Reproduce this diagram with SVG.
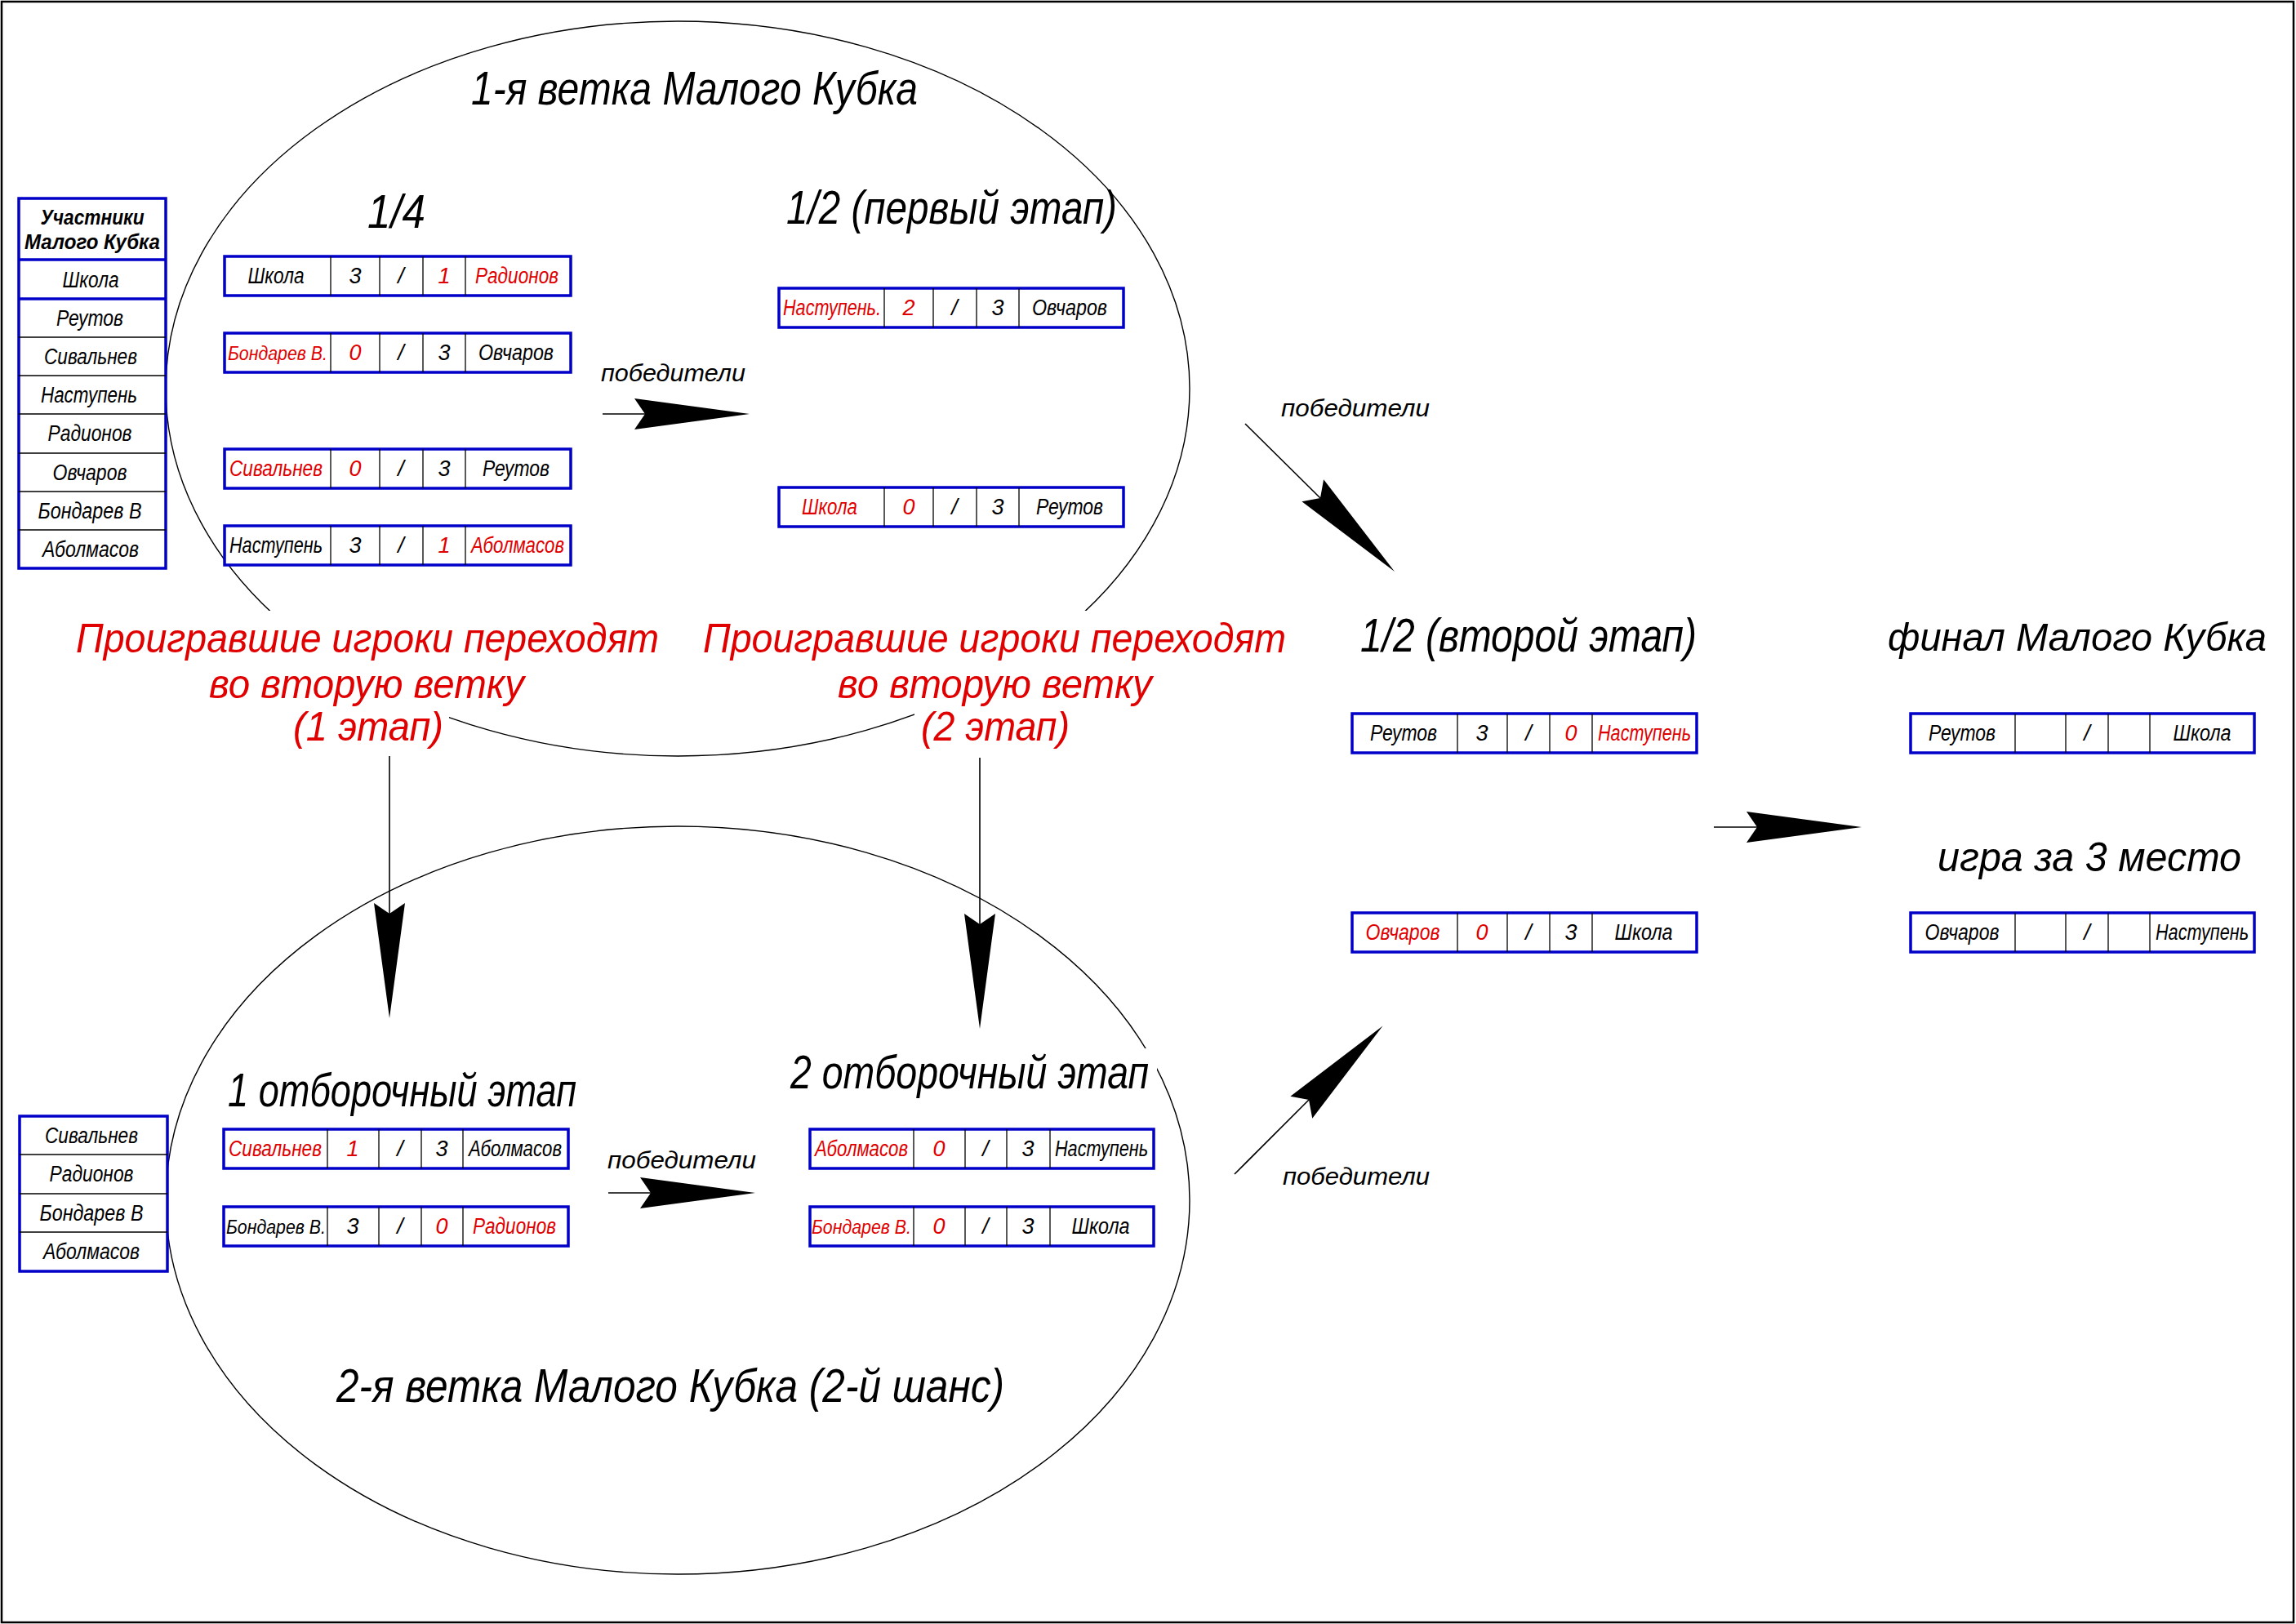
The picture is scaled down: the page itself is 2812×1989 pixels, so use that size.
<svg xmlns="http://www.w3.org/2000/svg" width="2812" height="1989" viewBox="0 0 2812 1989">
<style>
text{font-family:"Liberation Sans","DejaVu Sans",Arial,sans-serif;font-style:italic;fill:#000}
.r{fill:#E00000}
.s{font-size:27px;text-anchor:middle}
.b{font-size:23px}
.h{font-size:26px;text-anchor:middle;font-weight:bold}
.t{font-size:58px}
.rt{font-size:50px;fill:#E00000}
.w{font-size:29px}
.box{fill:#fff;stroke:#0000C8;stroke-width:3.5}
.dv{fill:none;stroke:#000;stroke-width:1.3}
.bl{fill:none;stroke:#0000C8;stroke-width:3.5}
.el{fill:none;stroke:#000;stroke-width:1.4}
.mask{fill:#fff;stroke:none}
.cn{fill:none;stroke:#000;stroke-width:1.6;marker-end:url(#dart)}
</style>
<defs>
<marker id="dart" markerUnits="userSpaceOnUse" viewBox="-15 -21 145 42" refX="0" refY="0" markerWidth="145" markerHeight="42" orient="auto" overflow="visible">
<path d="M128,0 L-13,-19 L0,0 L-13,19 Z" fill="#000"/>
</marker>
</defs>
<rect x="2" y="2" width="2807" height="1985" fill="#fff" stroke="#000" stroke-width="2.5"/>

<g id="branch1">
<ellipse class="el" cx="830" cy="476" rx="627" ry="450"/>
<text class="t" x="577" y="128" textLength="547" lengthAdjust="spacingAndGlyphs">1-я ветка Малого Кубка</text>
</g>
<g id="branch2">
<ellipse class="el" cx="830" cy="1470" rx="627" ry="458"/>
<text class="t" x="412" y="1717" font-size="60" textLength="818" lengthAdjust="spacingAndGlyphs">2-я ветка Малого Кубка (2-й шанс)</text>
</g>

<g id="losers1">
<rect class="mask" x="86" y="748" width="728" height="64"/>
<rect class="mask" x="250" y="812" width="398" height="56"/>
<rect class="mask" x="352" y="866" width="198" height="52"/>
<text class="rt" x="93" y="799" textLength="714" lengthAdjust="spacingAndGlyphs">Проигравшие игроки переходят</text>
<text class="rt" x="256" y="855" textLength="386" lengthAdjust="spacingAndGlyphs">во вторую ветку</text>
<text class="rt" x="359" y="907" textLength="184" lengthAdjust="spacingAndGlyphs">(1 этап)</text>
</g>
<g id="losers2">
<rect class="mask" x="854" y="748" width="728" height="64"/>
<rect class="mask" x="1020" y="812" width="398" height="56"/>
<rect class="mask" x="1120" y="866" width="198" height="52"/>
<text class="rt" x="861" y="799" textLength="714" lengthAdjust="spacingAndGlyphs">Проигравшие игроки переходят</text>
<text class="rt" x="1026" y="855" textLength="385" lengthAdjust="spacingAndGlyphs">во вторую ветку</text>
<text class="rt" x="1128" y="907" textLength="182" lengthAdjust="spacingAndGlyphs">(2 этап)</text>
</g>

<g id="connectors">
<line class="cn" x1="738" y1="507" x2="790" y2="507"/>
<line class="cn" x1="1525" y1="519" x2="1617" y2="610"/>
<line class="cn" x1="1512" y1="1438" x2="1603" y2="1347"/>
<line class="cn" x1="745" y1="1461" x2="797" y2="1461"/>
<line class="cn" x1="2099" y1="1013" x2="2152" y2="1013"/>
<line class="cn" x1="477" y1="926" x2="477" y2="1119"/>
<line class="cn" x1="1200" y1="928" x2="1200" y2="1132"/>
<text class="w" x="736" y="467" textLength="177" lengthAdjust="spacingAndGlyphs">победители</text>
<text class="w" x="1569" y="510" textLength="182" lengthAdjust="spacingAndGlyphs">победители</text>
<text class="w" x="744" y="1431" textLength="182" lengthAdjust="spacingAndGlyphs">победители</text>
<text class="w" x="1571" y="1451" textLength="180" lengthAdjust="spacingAndGlyphs">победители</text>
</g>

<g id="participants">
<rect class="box" x="23" y="243" width="180" height="453"/>
<path class="dv" d="M23,413H203M23,460H203M23,507H203M23,555H203M23,602H203M23,649H203"/>
<path class="bl" d="M23,318H203M23,366H203"/>
<text class="h" x="113" y="275" textLength="127" lengthAdjust="spacingAndGlyphs">Участники</text>
<text class="h" x="113" y="305" textLength="166" lengthAdjust="spacingAndGlyphs">Малого Кубка</text>
<text class="s" x="111" y="352" textLength="69" lengthAdjust="spacingAndGlyphs">Школа</text>
<text class="s" x="110" y="399" textLength="82" lengthAdjust="spacingAndGlyphs">Реутов</text>
<text class="s" x="111" y="446" textLength="114" lengthAdjust="spacingAndGlyphs">Сивальнев</text>
<text class="s" x="109" y="493" textLength="118" lengthAdjust="spacingAndGlyphs">Наступень</text>
<text class="s" x="110" y="540" textLength="103" lengthAdjust="spacingAndGlyphs">Радионов</text>
<text class="s" x="110" y="588" textLength="91" lengthAdjust="spacingAndGlyphs">Овчаров</text>
<text class="s" x="110" y="635" textLength="127" lengthAdjust="spacingAndGlyphs">Бондарев В</text>
<text class="s" x="111" y="682" textLength="118" lengthAdjust="spacingAndGlyphs">Аболмасов</text>
</g>

<g id="participants2">
<rect class="box" x="24" y="1367" width="181" height="190"/>
<path class="dv" d="M24,1414H205M24,1462H205M24,1509H205"/>
<text class="s" x="112" y="1400" textLength="114" lengthAdjust="spacingAndGlyphs">Сивальнев</text>
<text class="s" x="112" y="1447" textLength="103" lengthAdjust="spacingAndGlyphs">Радионов</text>
<text class="s" x="112" y="1495" textLength="127" lengthAdjust="spacingAndGlyphs">Бондарев В</text>
<text class="s" x="112" y="1542" textLength="118" lengthAdjust="spacingAndGlyphs">Аболмасов</text>
</g>

<g id="quarterfinals">
<text class="t" x="450" y="279" textLength="71" lengthAdjust="spacingAndGlyphs">1/4</text>
<g id="qf1">
<rect class="box" x="275" y="314" width="424" height="48"/>
<path class="dv" d="M405,314V362M465,314V362M518,314V362M570,314V362"/>
<text class="s" x="338" y="347" textLength="69" lengthAdjust="spacingAndGlyphs">Школа</text>
<text class="s" x="435" y="347">3</text><text class="s" x="491" y="347">/</text><text class="s r" x="544" y="347">1</text>
<text class="s r" x="633" y="347" textLength="102" lengthAdjust="spacingAndGlyphs">Радионов</text>
</g>
<g id="qf2">
<rect class="box" x="275" y="408" width="424" height="48"/>
<path class="dv" d="M405,408V456M465,408V456M518,408V456M570,408V456"/>
<text class="s b r" x="340" y="441" textLength="122" lengthAdjust="spacingAndGlyphs">Бондарев В.</text>
<text class="s r" x="435" y="441">0</text><text class="s" x="491" y="441">/</text><text class="s" x="544" y="441">3</text>
<text class="s" x="632" y="441" textLength="92" lengthAdjust="spacingAndGlyphs">Овчаров</text>
</g>
<g id="qf3">
<rect class="box" x="275" y="550" width="424" height="48"/>
<path class="dv" d="M405,550V598M465,550V598M518,550V598M570,550V598"/>
<text class="s r" x="338" y="583" textLength="114" lengthAdjust="spacingAndGlyphs">Сивальнев</text>
<text class="s r" x="435" y="583">0</text><text class="s" x="491" y="583">/</text><text class="s" x="544" y="583">3</text>
<text class="s" x="632" y="583" textLength="82" lengthAdjust="spacingAndGlyphs">Реутов</text>
</g>
<g id="qf4">
<rect class="box" x="275" y="644" width="424" height="48"/>
<path class="dv" d="M405,644V692M465,644V692M518,644V692M570,644V692"/>
<text class="s" x="338" y="677" textLength="114" lengthAdjust="spacingAndGlyphs">Наступень</text>
<text class="s" x="435" y="677">3</text><text class="s" x="491" y="677">/</text><text class="s r" x="544" y="677">1</text>
<text class="s r" x="634" y="677" textLength="114" lengthAdjust="spacingAndGlyphs">Аболмасов</text>
</g>
</g>

<g id="semifinal1">
<text class="t" x="963" y="274" textLength="405" lengthAdjust="spacingAndGlyphs">1/2 (первый этап)</text>
<g id="sf1a">
<rect class="box" x="954" y="353" width="422" height="48"/>
<path class="dv" d="M1083,353V401M1143,353V401M1196,353V401M1248,353V401"/>
<text class="s r" x="1019" y="386" textLength="120" lengthAdjust="spacingAndGlyphs">Наступень.</text>
<text class="s r" x="1113" y="386">2</text><text class="s" x="1169" y="386">/</text><text class="s" x="1222" y="386">3</text>
<text class="s" x="1310" y="386" textLength="92" lengthAdjust="spacingAndGlyphs">Овчаров</text>
</g>
<g id="sf1b">
<rect class="box" x="954" y="597" width="422" height="48"/>
<path class="dv" d="M1083,597V645M1143,597V645M1196,597V645M1248,597V645"/>
<text class="s r" x="1016" y="630" textLength="68" lengthAdjust="spacingAndGlyphs">Школа</text>
<text class="s r" x="1113" y="630">0</text><text class="s" x="1169" y="630">/</text><text class="s" x="1222" y="630">3</text>
<text class="s" x="1310" y="630" textLength="82" lengthAdjust="spacingAndGlyphs">Реутов</text>
</g>
</g>

<g id="semifinal2">
<text class="t" x="1666" y="798" textLength="412" lengthAdjust="spacingAndGlyphs">1/2 (второй этап)</text>
<g id="sf2a">
<rect class="box" x="1656" y="874" width="422" height="48"/>
<path class="dv" d="M1785,874V922M1846,874V922M1898,874V922M1950,874V922"/>
<text class="s" x="1719" y="907" textLength="82" lengthAdjust="spacingAndGlyphs">Реутов</text>
<text class="s" x="1815" y="907">3</text><text class="s" x="1872" y="907">/</text><text class="s r" x="1924" y="907">0</text>
<text class="s r" x="2014" y="907" textLength="114" lengthAdjust="spacingAndGlyphs">Наступень</text>
</g>
<g id="sf2b">
<rect class="box" x="1656" y="1118" width="422" height="48"/>
<path class="dv" d="M1785,1118V1166M1846,1118V1166M1898,1118V1166M1950,1118V1166"/>
<text class="s r" x="1718" y="1151" textLength="91" lengthAdjust="spacingAndGlyphs">Овчаров</text>
<text class="s r" x="1815" y="1151">0</text><text class="s" x="1872" y="1151">/</text><text class="s" x="1924" y="1151">3</text>
<text class="s" x="2013" y="1151" textLength="71" lengthAdjust="spacingAndGlyphs">Школа</text>
</g>
</g>

<g id="final">
<text x="2312" y="797" font-size="49" textLength="464" lengthAdjust="spacingAndGlyphs">финал Малого Кубка</text>
<rect class="box" x="2340" y="874" width="421" height="48"/>
<path class="dv" d="M2468,874V922M2530,874V922M2582,874V922M2633,874V922"/>
<text class="s" x="2403" y="907" textLength="82" lengthAdjust="spacingAndGlyphs">Реутов</text>
<text class="s" x="2556" y="907">/</text>
<text class="s" x="2697" y="907" textLength="71" lengthAdjust="spacingAndGlyphs">Школа</text>
</g>

<g id="third-place">
<text x="2373" y="1067" font-size="50" textLength="372" lengthAdjust="spacingAndGlyphs">игра за 3 место</text>
<rect class="box" x="2340" y="1118" width="421" height="48"/>
<path class="dv" d="M2468,1118V1166M2530,1118V1166M2582,1118V1166M2633,1118V1166"/>
<text class="s" x="2403" y="1151" textLength="91" lengthAdjust="spacingAndGlyphs">Овчаров</text>
<text class="s" x="2556" y="1151">/</text>
<text class="s" x="2697" y="1151" textLength="114" lengthAdjust="spacingAndGlyphs">Наступень</text>
</g>

<g id="qualifier1">
<text class="t" x="279" y="1355" textLength="427" lengthAdjust="spacingAndGlyphs">1 отборочный этап</text>
<g id="q1a">
<rect class="box" x="274" y="1383" width="422" height="48"/>
<path class="dv" d="M401,1383V1431M464,1383V1431M516,1383V1431M567,1383V1431"/>
<text class="s r" x="337" y="1416" textLength="114" lengthAdjust="spacingAndGlyphs">Сивальнев</text>
<text class="s r" x="432" y="1416">1</text><text class="s" x="490" y="1416">/</text><text class="s" x="541" y="1416">3</text>
<text class="s" x="631" y="1416" textLength="114" lengthAdjust="spacingAndGlyphs">Аболмасов</text>
</g>
<g id="q1b">
<rect class="box" x="274" y="1478" width="422" height="48"/>
<path class="dv" d="M401,1478V1526M464,1478V1526M516,1478V1526M567,1478V1526"/>
<text class="s b" x="338" y="1511" textLength="122" lengthAdjust="spacingAndGlyphs">Бондарев В.</text>
<text class="s" x="432" y="1511">3</text><text class="s" x="490" y="1511">/</text><text class="s r" x="541" y="1511">0</text>
<text class="s r" x="630" y="1511" textLength="102" lengthAdjust="spacingAndGlyphs">Радионов</text>
</g>
</g>

<g id="qualifier2">
<rect class="mask" x="962" y="1284" width="455" height="60"/>
<text class="t" x="968" y="1333" textLength="439" lengthAdjust="spacingAndGlyphs">2 отборочный этап</text>
<g id="q2a">
<rect class="box" x="992" y="1383" width="421" height="48"/>
<path class="dv" d="M1119,1383V1431M1182,1383V1431M1233,1383V1431M1286,1383V1431"/>
<text class="s r" x="1055" y="1416" textLength="114" lengthAdjust="spacingAndGlyphs">Аболмасов</text>
<text class="s r" x="1150" y="1416">0</text><text class="s" x="1207" y="1416">/</text><text class="s" x="1259" y="1416">3</text>
<text class="s" x="1349" y="1416" textLength="114" lengthAdjust="spacingAndGlyphs">Наступень</text>
</g>
<g id="q2b">
<rect class="box" x="992" y="1478" width="421" height="48"/>
<path class="dv" d="M1119,1478V1526M1182,1478V1526M1233,1478V1526M1286,1478V1526"/>
<text class="s b r" x="1055" y="1511" textLength="122" lengthAdjust="spacingAndGlyphs">Бондарев В.</text>
<text class="s r" x="1150" y="1511">0</text><text class="s" x="1207" y="1511">/</text><text class="s" x="1259" y="1511">3</text>
<text class="s" x="1348" y="1511" textLength="71" lengthAdjust="spacingAndGlyphs">Школа</text>
</g>
</g>
</svg>
